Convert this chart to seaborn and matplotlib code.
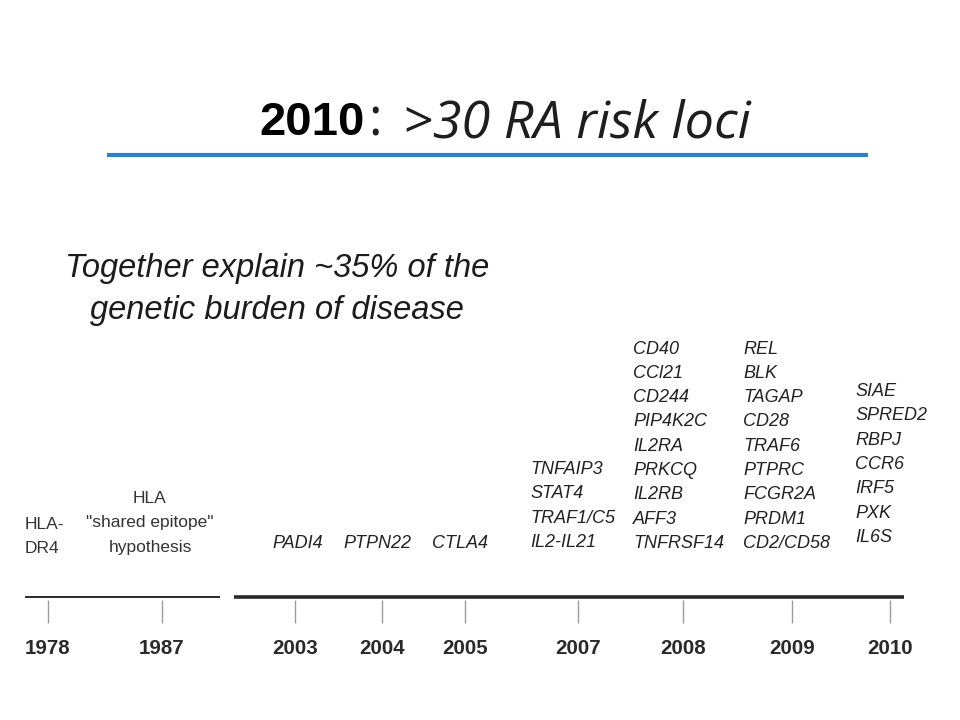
import matplotlib
matplotlib.use("Agg")
import matplotlib.pyplot as plt
import seaborn as sns

# --- data ---
years = ["1978", "1987", "2003", "2004", "2005", "2007", "2008", "2009", "2010"]
note_dr4 = ["HLA-", "DR4"]
note_epitope = ["HLA", "\"shared epitope\"", "hypothesis"]
single_genes = ["PADI4", "PTPN22", "CTLA4"]
genes_2007 = ["TNFAIP3", "STAT4", "TRAF1/C5", "IL2-IL21"]
genes_2008 = ["CD40", "CCl21", "CD244", "PIP4K2C", "IL2RA", "PRKCQ", "IL2RB", "AFF3", "TNFRSF14"]
genes_2009 = ["REL", "BLK", "TAGAP", "CD28", "TRAF6", "PTPRC", "FCGR2A", "PRDM1", "CD2/CD58"]
genes_2010 = ["SIAE", "SPRED2", "RBPJ", "CCR6", "IRF5", "PXK", "IL6S"]
title_year = "2010"
title_rest = ">30 RA risk loci"
subtitle = ["Together explain ~35% of the", "genetic burden of disease"]

# --- layout (pixel coordinates on a 960x720 canvas) ---
tick_x = [48, 162, 295, 382, 465, 578, 683, 792, 890]
single_x = [272, 343, 432]
column_x = [530, 633, 743, 855]
column_bottom = [547, 548, 548, 542]
line_step = 24.3

sns.set_theme(style="white")
arial = ["Liberation Sans", "DejaVu Sans"]
opensans = ["Open Sans", "DejaVu Sans"]

fig = plt.figure(figsize=(9.6, 7.2), dpi=100)
ax = fig.add_axes([0, 0, 1, 1])
ax.set_xlim(0, 960)
ax.set_ylim(720, 0)
ax.axis("off")

# title
ax.text(259, 135, title_year, family=arial, fontsize=34, fontweight="bold",
        color="black", ha="left", va="baseline")
ax.text(368, 136, ":", family=opensans, fontsize=37, color="#1e1e1e",
        ha="left", va="baseline")
ax.text(403, 137, title_rest, family=opensans, fontsize=37.5, style="italic",
        color="#1e1e1e", ha="left", va="baseline")
ax.plot([107, 868], [155, 155], color="#2f7fc6", lw=3, solid_capstyle="butt")

# subtitle
for i, line in enumerate(subtitle):
    ax.text(277, 277 + i * 42, line, family=arial, fontsize=23.5, style="italic",
            color="#1c1c1c", ha="center", va="baseline")

# timeline
ax.plot([25, 220], [597, 597], color="#2a2a2a", lw=1.4, solid_capstyle="butt")
ax.plot([234, 904], [597, 597], color="#2a2a2a", lw=2.6, solid_capstyle="butt")
ax.vlines(tick_x, 600, 623, color="#9a9a9a", lw=1.0)
for x, yr in zip(tick_x, years):
    ax.text(x, 654, yr, family=arial, fontsize=14.8, fontweight="bold",
            color="#2a2a2a", ha="center", va="baseline")

# early notes
for i, line in enumerate(note_dr4):
    ax.text(25, 529 + i * 24, line, family=arial, fontsize=12.5, color="#333333",
            ha="left", va="baseline")
for i, line in enumerate(note_epitope):
    ax.text(150, 503 + i * 24.5, line, family=arial, fontsize=12.5, color="#333333",
            ha="center", va="baseline")

# single genes
for x, g in zip(single_x, single_genes):
    ax.text(x, 548, g, family=arial, fontsize=13, style="italic",
            color="#222222", ha="left", va="baseline")

# gene columns
for x, bottom, genes in zip(column_x, column_bottom,
                            [genes_2007, genes_2008, genes_2009, genes_2010]):
    n = len(genes)
    for i, g in enumerate(genes):
        ax.text(x, bottom - (n - 1 - i) * line_step, g, family=arial, fontsize=13,
                style="italic", color="#222222", ha="left", va="baseline")

fig.savefig("out.png", dpi=100, facecolor="white")
